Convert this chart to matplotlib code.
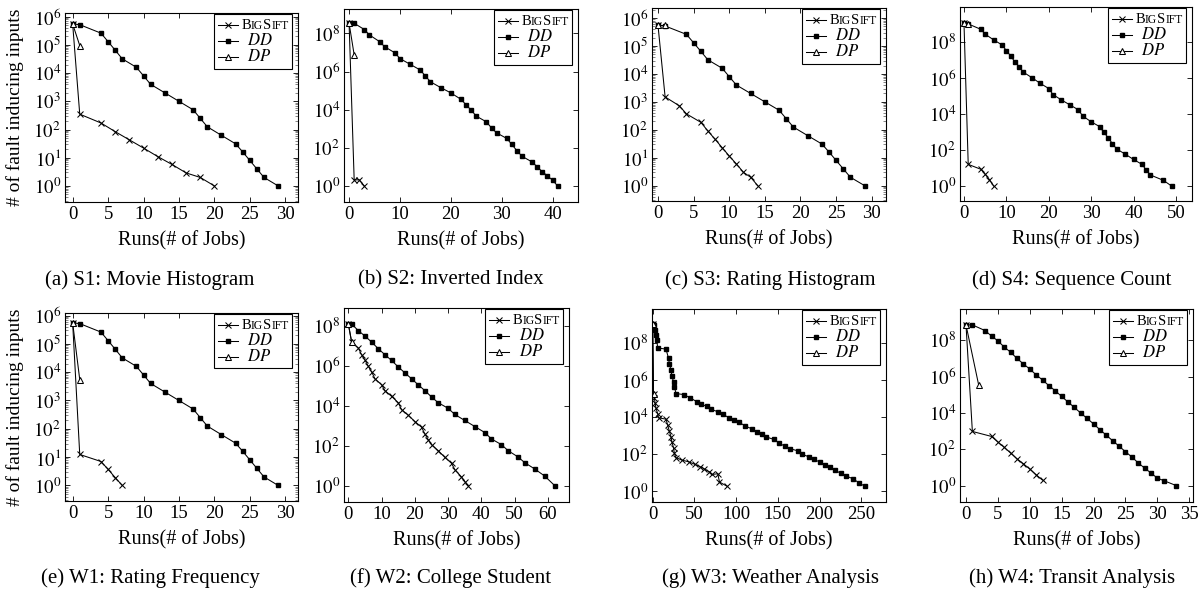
import math
import matplotlib
matplotlib.use('Agg')
import matplotlib.pyplot as plt
from matplotlib.ticker import FixedLocator, NullLocator, LogLocator, FuncFormatter
from matplotlib.offsetbox import AnchoredOffsetbox, VPacker, HPacker, TextArea, DrawingArea
from matplotlib.lines import Line2D

plt.rcParams['font.family'] = ['Liberation Serif', 'DejaVu Serif']
plt.rcParams['mathtext.fontset'] = 'stix'

# ---- data (x = run number, y = # fault inducing inputs)
# S1: Movie Histogram
s1_bs_x = [0, 1, 4, 6, 8, 10, 12, 14, 16, 18, 20]
s1_bs_y = [5.5e5, 350, 170, 84, 43, 22, 11, 5.8, 2.9, 2, 1]
s1_dd_x = [0, 1, 4, 5, 6, 7, 9, 10, 11, 13, 15, 17, 18, 19, 21, 23, 24, 25, 26, 27, 29]
s1_dd_y = [5.5e5, 5.2e5, 2.6e5, 1.3e5, 6.5e4, 3.2e4, 1.6e4, 8e3, 4e3, 2e3, 1e3,
           500, 250, 125, 62, 31, 16, 8, 4, 2, 1]
s1_dp_x = [0, 1]
s1_dp_y = [5.5e5, 9.5e4]

# S2: Inverted Index
s2_bs_x = [0, 1, 2, 3]
s2_bs_y = [3.4e8, 2.1, 2.1, 1]
s2_dd_x = [0, 1, 3, 4, 6, 7, 9, 10, 12, 14, 15, 16, 18, 20, 22, 23, 24, 25, 27, 28,
           29, 31, 32, 33, 34, 36, 37, 38, 39, 40, 41]
s2_dd_y = [3.4e8, 3.4e8, 1.6e8, 8.3e7, 3.7e7, 2e7, 9.6e6, 4.8e6, 2.4e6, 1.2e6, 5.8e5,
           2.9e5, 1.45e5, 7.6e4, 3.5e4, 1.8e4, 9.5e3, 4.6e3, 2.3e3, 1.1e3, 610, 310,
           150, 70, 36, 18, 10, 5.5, 3.4, 2, 1]
s2_dp_x = [0, 1]
s2_dp_y = [3.4e8, 7.5e6]

# S3: Rating Histogram
s3_bs_x = [0, 1, 3, 4, 6, 7, 8, 9, 10, 11, 12, 13, 14]
s3_bs_y = [5.5e5, 1.5e3, 720, 370, 186, 91, 46, 23, 11.5, 6, 3, 2, 1]
s3_dd_x = [0, 1, 4, 5, 6, 7, 9, 10, 11, 13, 15, 17, 18, 19, 21, 23, 24, 25, 26, 27, 29]
s3_dd_y = [5.5e5, 5.2e5, 2.6e5, 1.3e5, 6.5e4, 3.2e4, 1.6e4, 8e3, 4e3, 2e3, 1e3,
           500, 250, 125, 62, 31, 16, 8, 4, 2, 1]
s3_dp_x = [0, 1]
s3_dp_y = [5.5e5, 5.5e5]

# S4: Sequence Count
s4_bs_x = [0, 1, 4, 5, 6, 7]
s4_bs_y = [1.1e9, 16, 8.5, 4.5, 2.3, 1]
s4_dd_x = [0, 1, 4, 5, 7, 9, 10, 11, 12, 13, 14, 16, 18, 20, 21, 23, 25, 27, 28, 30,
           32, 33, 34, 35, 36, 38, 40, 42, 43, 44, 47, 49]
s4_dd_y = [1.1e9, 1e9, 5e8, 2.7e8, 1.3e8, 6.8e7, 3.3e7, 1.7e7, 7.8e6, 4.3e6, 2.1e6,
           1.05e6, 5e5, 2.6e5, 1.2e5, 6e4, 3.2e4, 1.7e4, 7.8e3, 3.7e3, 2e3, 950, 490,
           230, 115, 60, 30, 16, 7.8, 4.1, 2.1, 1]
s4_dp_x = [0, 1]
s4_dp_y = [1.1e9, 1e9]

# W1: Rating Frequency
w1_bs_x = [0, 1, 4, 5, 6, 7]
w1_bs_y = [5.5e5, 12.4, 7, 3.7, 1.9, 1]
w1_dd_x = [0, 1, 4, 5, 6, 7, 9, 10, 11, 13, 15, 17, 18, 19, 21, 23, 24, 25, 26, 27, 29]
w1_dd_y = [5.5e5, 5.2e5, 2.6e5, 1.3e5, 6.5e4, 3.2e4, 1.6e4, 8e3, 4e3, 2e3, 1e3,
           500, 250, 125, 62, 31, 16, 8, 4, 2, 1]
w1_dp_x = [0, 1]
w1_dp_y = [5.5e5, 5.5e3]

# W2: College Student
w2_bs_x = [0, 1, 3, 4, 5, 6, 7, 8, 10, 11, 13, 15, 16, 18, 20, 22, 23, 24, 25, 27,
           29, 31, 32, 34, 35, 36]
w2_bs_y = [1.2e8, 1.5e7, 7.6e6, 3.5e6, 1.9e6, 9.3e5, 4.8e5, 2.2e5, 1.1e5, 5.6e4,
           2.9e4, 1.4e4, 6.3e3, 3.3e3, 1.6e3, 830, 380, 200, 112, 56, 26, 13, 6.3,
           2.7, 1.6, 1]
w2_dd_x = [0, 1, 3, 5, 7, 9, 11, 13, 15, 17, 19, 21, 23, 25, 27, 30, 32, 35, 38, 41,
           43, 46, 48, 51, 53, 56, 59, 62]
w2_dd_y = [1.2e8, 1.2e8, 5.6e7, 3e7, 1.5e7, 7e6, 3.5e6, 1.8e6, 8.6e5, 4.3e5, 2.2e5,
           1.1e5, 5.6e4, 2.7e4, 1.4e4, 7.3e3, 3.6e3, 1.8e3, 900, 450, 215, 112, 56,
           27, 14, 6.8, 3, 1]
w2_dp_x = [0, 1]
w2_dp_y = [1.2e8, 1.5e7]

# W3: Weather Analysis
w3_bs_x = [0, 1, 2, 3, 4, 6, 7, 16, 18, 20, 22, 23, 25, 26, 28, 35, 43, 51, 57, 62,
           68, 71, 78, 80, 89]
w3_bs_y = [1e9, 1.7e5, 1e5, 5.4e4, 2.9e4, 1.5e4, 9e3, 7.6e3, 3.6e3, 1.7e3, 850, 460,
           220, 110, 65, 48, 39, 28, 21, 16, 11, 8.1, 8.9, 3.2, 1.9]
w3_dd_x = [0, 1, 3, 4, 5, 6, 16, 19, 20, 22, 23, 25, 26, 28, 37, 45, 53, 58, 65, 70,
           78, 84, 91, 97, 104, 111, 119, 125, 131, 136, 145, 151, 158, 165, 174, 179,
           187, 193, 201, 207, 212, 219, 225, 232, 240, 247, 254]
w3_dd_y = [1e9, 8.5e8, 4.6e8, 2.5e8, 1.3e8, 5.1e7, 4.4e7, 1.4e7, 7.4e6, 3.2e6, 1.6e6,
           7.6e5, 4.2e5, 1.8e5, 1.6e5, 1.07e5, 6.5e4, 4.7e4, 3.8e4, 2.6e4, 1.9e4, 1.4e4,
           9.3e3, 6.8e3, 5.1e3, 3.2e3, 2.3e3, 1.6e3, 1.2e3, 850, 620, 410, 270, 195,
           150, 100, 72, 52, 37, 26, 19.5, 13.8, 9.3, 6.6, 4.8, 2.9, 1.9]
w3_dp_x = [0, 1]
w3_dp_y = [1e9, 1.7e5]

# W4: Transit Analysis
w4_bs_x = [0, 1, 4, 5, 6, 7, 8, 9, 10, 11, 12]
w4_bs_y = [7e8, 960, 510, 250, 128, 62, 30, 16, 8.2, 4, 2]
w4_dd_x = [0, 1, 3, 4, 5, 6, 7, 8, 9, 10, 11, 12, 13, 14, 15, 16, 17, 18, 19, 20, 21,
           22, 23, 24, 25, 26, 27, 28, 29, 30, 31, 33]
w4_dd_y = [7e8, 7e8, 3.4e8, 1.7e8, 9.3e7, 4.2e7, 2.2e7, 1e7, 5e6, 2.6e6, 1.26e6,
           6.5e5, 3.2e5, 1.66e5, 8.1e4, 4e4, 2e4, 9.8e3, 5e3, 2.5e3, 1.2e3, 600, 295,
           150, 74, 38, 18, 9.3, 5, 2.6, 1.9, 1]
w4_dp_x = [0, 2]
w4_dp_y = [7e8, 3.3e5]

captions = ['(a) S1: Movie Histogram', '(b) S2: Inverted Index',
            '(c) S3: Rating Histogram', '(d) S4: Sequence Count',
            '(e) W1: Rating Frequency', '(f) W2: College Student',
            '(g) W3: Weather Analysis', '(h) W4: Transit Analysis']

series = [
    (s1_bs_x, s1_bs_y, s1_dd_x, s1_dd_y, s1_dp_x, s1_dp_y),
    (s2_bs_x, s2_bs_y, s2_dd_x, s2_dd_y, s2_dp_x, s2_dp_y),
    (s3_bs_x, s3_bs_y, s3_dd_x, s3_dd_y, s3_dp_x, s3_dp_y),
    (s4_bs_x, s4_bs_y, s4_dd_x, s4_dd_y, s4_dp_x, s4_dp_y),
    (w1_bs_x, w1_bs_y, w1_dd_x, w1_dd_y, w1_dp_x, w1_dp_y),
    (w2_bs_x, w2_bs_y, w2_dd_x, w2_dd_y, w2_dp_x, w2_dp_y),
    (w3_bs_x, w3_bs_y, w3_dd_x, w3_dd_y, w3_dp_x, w3_dp_y),
    (w4_bs_x, w4_bs_y, w4_dd_x, w4_dd_y, w4_dp_x, w4_dp_y),
]

# marker styles: BigSift, DD, DP
styles = [dict(marker='x', ms=4.5, mew=0.75),
          dict(marker='s', ms=2.8),
          dict(marker='^', ms=4.5, mew=0.75, mfc='white')]

# ---- layout (pixel boxes: left, top, right, bottom) and axis settings
W, H = 1198, 596
boxes = [(65, 13, 298, 202), (344, 9, 578, 202), (652, 8, 886, 201), (960, 7, 1192, 201),
         (65, 313, 298, 501), (344, 308, 569, 502), (652, 309, 886, 502), (960, 309, 1193, 502)]
xlims = [(-1.08, 31.8), (-1, 45), (-0.84, 32), (-0.94, 53.8),
         (-1.08, 31.8), (-1.3, 66.3), (-0.8, 279.5), (-0.94, 35.6)]
ylims = [(-0.57, 6.13), (-0.84, 9.28), (-0.55, 6.36), (-0.83, 9.94),
         (-0.55, 6.09), (-0.82, 8.88), (-0.57, 9.8), (-0.9, 9.72)]
xsteps = [5, 10, 5, 10, 5, 10, 50, 5]
ysteps = [1, 2, 1, 2, 1, 2, 2, 2]
cap_x = [150, 451, 770, 1072]
cap_y = [280, 578]


def make_legend(ax):
    # pgfplots-like legend, with BigSift in small caps
    labels = [[('B', 10.5), ('IG', 8.4), ('S', 10.5), ('IFT', 8.4)],
              [(r'$DD$', 12)],
              [(r'$DP$', 12)]]
    rows = []
    for k, (st, lab) in enumerate(zip(styles, labels)):
        da = DrawingArea(14.5, 11.2, 0, 0)
        da.add_artist(Line2D([0, 14.5], [5.6, 5.6], color='black', lw=0.75))
        da.add_artist(Line2D([7.25], [5.6], color='black', lw=0, **st))
        parts = [TextArea(s, textprops=dict(fontsize=f)) for s, f in lab]
        if k > 0:
            parts = [DrawingArea(4.5, 1, 0, 0)] + parts
        txt = HPacker(children=parts, align='baseline', pad=0, sep=0)
        rows.append(HPacker(children=[da, txt], align='center', pad=0, sep=2.5))
    box = VPacker(children=rows, align='left', pad=0, sep=0)
    ab = AnchoredOffsetbox(loc='upper right', child=box, pad=0.25, borderpad=0,
                           frameon=True, bbox_to_anchor=(1 - 6 / 233, 1 - 1.0 / 189),
                           bbox_transform=ax.transAxes)
    ab.patch.set_boxstyle('square', pad=0)
    ab.patch.set_edgecolor('black')
    ab.patch.set_linewidth(0.8)
    ab.set_zorder(10)
    ax.add_artist(ab)


fig = plt.figure(figsize=(W / 100, H / 100), dpi=100)

for i, (bx, by, dx, dy, px, py) in enumerate(series):
    l, t, r, b = boxes[i]
    ax = fig.add_axes([l / W, 1 - b / H, (r - l) / W, (b - t) / H])
    ax.set_yscale('log')
    for (xx, yy), st in zip([(bx, by), (dx, dy), (px, py)], styles):
        ax.plot(xx, yy, color='black', lw=0.75, **st)
    ax.set_xlim(*xlims[i])
    ax.set_ylim(10 ** ylims[i][0], 10 ** ylims[i][1])
    xs = xsteps[i]
    ax.xaxis.set_major_locator(FixedLocator(list(range(0, int(xlims[i][1]) + 1, xs))))
    ys = ysteps[i]
    ax.yaxis.set_major_locator(FixedLocator([10.0 ** k for k in range(0, 10, ys)]))
    ax.yaxis.set_major_formatter(FuncFormatter(lambda v, p: r'$10^{%d}$' % round(math.log10(v))))
    if ys == 1:
        ax.yaxis.set_minor_locator(LogLocator(base=10, subs=range(2, 10), numticks=20))
    else:
        ax.yaxis.set_minor_locator(NullLocator())
    ax.yaxis.set_minor_formatter(FuncFormatter(lambda v, p: ''))
    ax.tick_params(which='both', direction='in', top=True, right=True, labelsize=13.5)
    ax.tick_params(which='major', length=3.5, width=0.6, pad=3)
    ax.tick_params(which='minor', length=2, width=0.5, colors='#555555')
    for sp in ax.spines.values():
        sp.set_linewidth(0.8)
    ax.set_xlabel('Runs(# of Jobs)', fontsize=14.5, labelpad=5.5)
    if i % 4 == 0:
        ax.set_ylabel('# of fault inducing inputs', fontsize=14)
        ax.yaxis.set_label_coords(-0.175, 0.5)
    make_legend(ax)

    fig.text(cap_x[i % 4] / W, 1 - cap_y[i // 4] / H, captions[i],
             ha='center', va='center', fontsize=15)

fig.savefig('out.png', dpi=100)
